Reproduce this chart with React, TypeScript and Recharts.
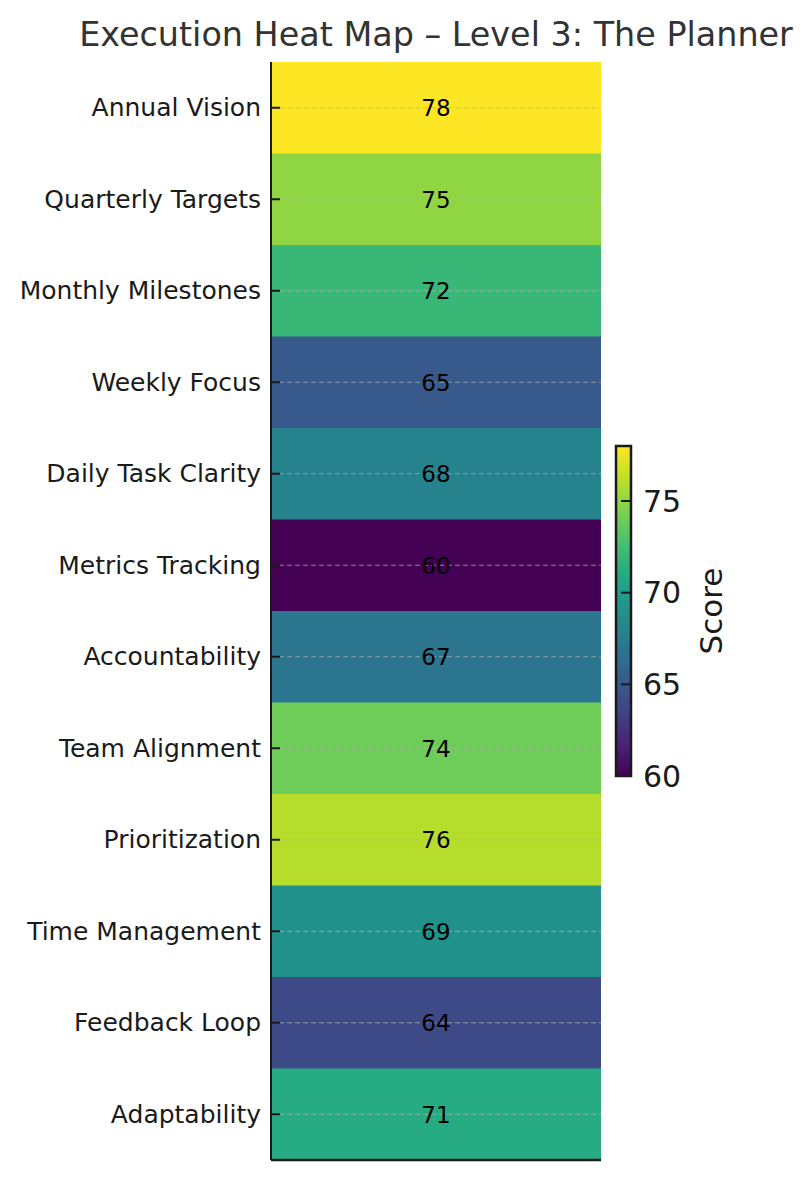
import React from 'react';
import {
  BarChart,
  Bar,
  XAxis,
  YAxis,
  Cell,
  LabelList,
  ReferenceLine,
} from 'recharts';

const categories = [
  'Annual Vision',
  'Quarterly Targets',
  'Monthly Milestones',
  'Weekly Focus',
  'Daily Task Clarity',
  'Metrics Tracking',
  'Accountability',
  'Team Alignment',
  'Prioritization',
  'Time Management',
  'Feedback Loop',
  'Adaptability',
];
const scores = [78, 75, 72, 65, 68, 60, 67, 74, 76, 69, 64, 71];
const colorbarTicks = [60, 65, 70, 75];
const colorMin = 60;
const colorMax = 78;

const VIRIDIS = [
  '#440154', '#482475', '#414487', '#355f8d', '#2a788e', '#21918c',
  '#22a884', '#44bf70', '#7ad151', '#bddf26', '#fde725',
];

function hexToRgb(h: string) {
  return [parseInt(h.slice(1, 3), 16), parseInt(h.slice(3, 5), 16), parseInt(h.slice(5, 7), 16)];
}
function viridis(t: number) {
  const c = Math.max(0, Math.min(1, t)) * (VIRIDIS.length - 1);
  const i = Math.min(Math.floor(c), VIRIDIS.length - 2);
  const f = c - i;
  const a = hexToRgb(VIRIDIS[i]);
  const b = hexToRgb(VIRIDIS[i + 1]);
  const r = a.map((v, k) => Math.round(v + (b[k] - v) * f));
  return `rgb(${r[0]},${r[1]},${r[2]})`;
}

const data = categories.map((name, i) => ({ name, score: scores[i] }));
const cbData = [{ name: 'cb', range: [colorMin, colorMax] }];

const FONT = '"DejaVu Sans", sans-serif';

const RowTick = (props: any) => {
  const { x, y, payload } = props;
  return (
    <g>
      <line x1={x + 10} x2={x + 19} y1={y} y2={y} stroke="#1a1a1a" strokeWidth={2} />
      <text x={x} y={y} textAnchor="end" dominantBaseline="central" fontSize={25} fill="#1a1a1a" fontFamily={FONT}>
        {payload.value}
      </text>
    </g>
  );
};

const CbTick = (props: any) => {
  const { x, y, payload } = props;
  return (
    <g>
      <line x1={x - 22} x2={x - 12} y1={y} y2={y} stroke="#1a1a1a" strokeWidth={2} />
      <text x={x} y={y} textAnchor="start" dominantBaseline="central" fontSize={30} fill="#1a1a1a" fontFamily={FONT}>
        {payload.value}
      </text>
    </g>
  );
};

export default function App() {
  return (
    <div style={{ position: 'absolute', left: 0, top: 0, width: 812, height: 1180, background: '#fff', fontFamily: FONT }}>
      <div
        style={{
          position: 'absolute',
          left: 36,
          top: 18,
          width: 800,
          textAlign: 'center',
          fontSize: 33.4,
          lineHeight: '33px',
          color: '#333333',
          whiteSpace: 'nowrap',
        }}
      >
        Execution Heat Map – Level 3: The Planner
      </div>
      <div style={{ position: 'absolute', left: 0, top: 0 }}>
        <BarChart
          width={812}
          height={1180}
          data={data}
          layout="vertical"
          margin={{ top: 62, right: 211, bottom: 18, left: 0 }}
          barCategoryGap={0}
          barGap={0}
        >
          <XAxis
            type="number"
            domain={[0, 1]}
            tick={false}
            tickLine={false}
            height={2}
            axisLine={{ stroke: '#1a1a1a', strokeWidth: 2.5 }}
          />
          <YAxis
            type="category"
            dataKey="name"
            width={271}
            tickSize={0}
            tickMargin={10}
            tickLine={false}
            tick={<RowTick />}
            axisLine={{ stroke: '#1a1a1a', strokeWidth: 2 }}
            interval={0}
          />
          <Bar dataKey={() => 1} isAnimationActive={false}>
            {data.map((d, i) => (
              <Cell key={i} fill={viridis((d.score - colorMin) / (colorMax - colorMin))} />
            ))}
            <LabelList
              dataKey="score"
              position="center"
              fill="#000"
              fontSize={23}
              fontFamily={FONT}
            />
          </Bar>
          {categories.map((c) => (
            <ReferenceLine
              key={c}
              y={c}
              stroke="#b0b0b0"
              strokeOpacity={0.75}
              strokeDasharray="5 3"
              strokeWidth={1.2}
            />
          ))}
        </BarChart>
      </div>
      <div style={{ position: 'absolute', left: 0, top: 0 }}>
        <BarChart
          width={812}
          height={1180}
          data={cbData}
          margin={{ top: 446, right: 21, bottom: 404, left: 616 }}
          barCategoryGap={0}
        >
          <defs>
            <linearGradient id="viridisGrad" x1="0" y1="1" x2="0" y2="0">
              {VIRIDIS.map((c, i) => (
                <stop key={i} offset={`${(i / (VIRIDIS.length - 1)) * 100}%`} stopColor={c} />
              ))}
            </linearGradient>
          </defs>
          <XAxis dataKey="name" hide />
          <YAxis
            orientation="right"
            type="number"
            domain={[colorMin, colorMax]}
            ticks={colorbarTicks}
            width={160}
            tickSize={0}
            tickMargin={12}
            tickLine={false}
            axisLine={false}
            tick={<CbTick />}
            label={{
              value: 'Score',
              angle: -90,
              position: 'center',
              fontSize: 31,
              fill: '#1a1a1a',
              fontFamily: FONT,
            }}
          />
          <Bar
            dataKey="range"
            fill="url(#viridisGrad)"
            stroke="#1a1a1a"
            strokeWidth={2.5}
            isAnimationActive={false}
          />
        </BarChart>
      </div>
    </div>
  );
}
